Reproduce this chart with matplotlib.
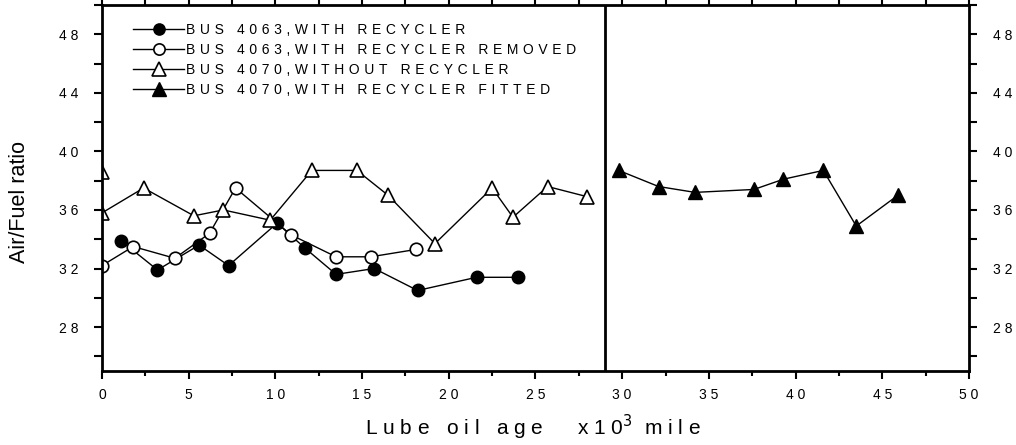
import matplotlib.pyplot as plt
from matplotlib.ticker import MultipleLocator

plt.rcParams['font.family'] = ['Liberation Sans', 'DejaVu Sans']

# data (x in 10^3 mile, y = air/fuel ratio)
x_4063_rec = [1.1, 3.2, 5.6, 7.3, 10.1, 11.7, 13.5, 15.7, 18.2, 21.6, 24.0]
y_4063_rec = [33.9, 31.9, 33.6, 32.2, 35.1, 33.4, 31.6, 32.0, 30.5, 31.4, 31.4]

x_4063_rem = [0, 1.8, 4.2, 6.2, 7.7, 10.9, 13.5, 15.5, 18.1]
y_4063_rem = [32.2, 33.5, 32.7, 34.4, 37.5, 34.3, 32.8, 32.8, 33.3]

x_4070_without = [0, 0, 2.4, 5.3, 7.0, 9.7, 12.1, 14.7, 16.5, 19.2, 22.5, 23.7, 25.7, 28.0]
y_4070_without = [38.6, 35.8, 37.5, 35.6, 36.0, 35.3, 38.7, 38.7, 37.0, 33.7, 37.5, 35.5, 37.6, 36.9]

x_4070_fitted = [29.8, 32.1, 34.2, 37.6, 39.3, 41.6, 43.5, 45.9]
y_4070_fitted = [38.7, 37.6, 37.2, 37.4, 38.1, 38.7, 34.9, 37.0]

labels = ["BUS 4063,WITH RECYCLER",
          "BUS 4063,WITH RECYCLER REMOVED",
          "BUS 4070,WITHOUT RECYCLER",
          "BUS 4070,WITH RECYCLER FITTED"]

SPLIT_X = 29  # where the recycler was fitted
xticks = list(range(0, 51, 5))
yticks = list(range(28, 49, 4))

WIDE = "\u2004"  # letter tracking for the legend


def spaced(s, gap=" "):
    return gap.join(s)


fig = plt.figure(figsize=(10.16, 4.45), dpi=100)
ax = fig.add_axes([0.1004, 0.1663, 0.8533, 0.8225])

ax.plot(x_4063_rec, y_4063_rec, color='k', lw=1, marker='o', ms=9,
        mfc='k', mec='k', label=spaced(labels[0], WIDE))
ax.plot(x_4063_rem, y_4063_rem, color='k', lw=1, marker='o', ms=9,
        mfc='white', mec='k', mew=1.2, label=spaced(labels[1], WIDE))
ax.plot(x_4070_without, y_4070_without, color='k', lw=1, marker='^', ms=10.5,
        mfc='white', mec='k', mew=1.2, label=spaced(labels[2], WIDE))
ax.plot(x_4070_fitted, y_4070_fitted, color='k', lw=1, marker='^', ms=10.5,
        mfc='k', mec='k', label=spaced(labels[3], WIDE))

ax.axvline(SPLIT_X, color='k', lw=2)

ax.set_xlim(0, 50)
ax.set_ylim(25, 50)
ax.set_xticks(xticks)
ax.set_xticklabels([spaced(str(v)) for v in xticks])
ax.xaxis.set_minor_locator(MultipleLocator(2.5))
ax.set_yticks(yticks)
ax.set_yticklabels([spaced(str(v)) for v in yticks])
ax.yaxis.set_minor_locator(MultipleLocator(2))

for s in ax.spines.values():
    s.set_linewidth(2)

ax.tick_params(axis='x', which='both', direction='out', top=True,
               labelsize=10, pad=6, width=1.5)
ax.tick_params(axis='x', which='major', length=6)
ax.tick_params(axis='x', which='minor', length=3.5)
ax.tick_params(axis='y', which='both', direction='out', right=True,
               labelright=True, labelsize=10, pad=11, width=1.5, length=6)

fig.text(19.5 / 1016, 1 - 202 / 445, "Air/Fuel ratio", rotation=90,
         ha='center', va='center', fontsize=15.5)
fig.text(533 / 1016, 1 - 435 / 445,
         spaced("Lube oil age") + "      " + spaced("x10") + r"$^{3}$" + "  " + spaced("mile"),
         ha='center', va='baseline', fontsize=15)

ax.legend(loc='upper left', bbox_to_anchor=(0.0358, 0.952), frameon=False,
          fontsize=10, handlelength=3.7, handletextpad=0.1, labelspacing=0.44,
          borderpad=0, borderaxespad=0, numpoints=1, markerscale=0.9)

fig.savefig("out.png", dpi=100)
